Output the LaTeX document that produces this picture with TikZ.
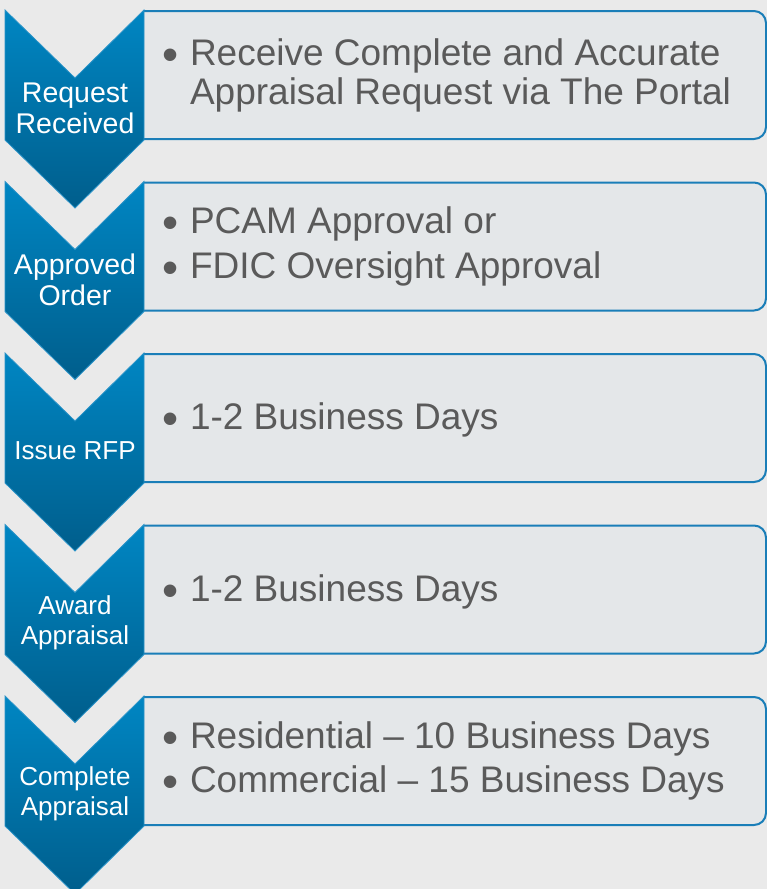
\documentclass[tikz,border=0pt]{standalone}
\usepackage{fontspec}
\setmainfont{Liberation Sans}
\definecolor{bgcol}{HTML}{EAEAEA}
\definecolor{boxfill}{HTML}{E4E7E9}
\definecolor{boxline}{HTML}{1A7EB8}
\definecolor{chevtop}{HTML}{0086C3}
\definecolor{chevbot}{HTML}{005E8C}
\definecolor{chevedge}{HTML}{2A93C8}
\definecolor{textgray}{HTML}{5A5A5A}
\newcommand{\stepbullet}{\makebox[28pt][l]{\raisebox{-5pt}{\fontsize{46}{39}\selectfont\textbullet}}}

\begin{document}
\begin{tikzpicture}[x=1pt,y=-1pt,
        stepbox/.style={fill=boxfill,draw=boxline,line width=2,rounded corners=12},
        chevron/.style={top color=chevtop,bottom color=chevbot,draw=chevedge,line width=0.8},
        steplabel/.style={text=white,align=center,font=\fontsize{26}{30}\selectfont},
        steptext/.style={text=textgray,align=left,anchor=west,font=\fontsize{37}{39}\selectfont}]
        \useasboundingbox (0,0) rectangle (767,889);
        \fill[bgcol] (0,0) rectangle (767,889);

        \draw[stepbox] (144,11) -- (766,11) -- (766,139) -- (144,139);
        \draw[stepbox] (144,182.5) -- (766,182.5) -- (766,310.5) -- (144,310.5);
        \draw[stepbox] (144,354) -- (766,354) -- (766,482) -- (144,482);
        \draw[stepbox] (144,525.5) -- (766,525.5) -- (766,653.5) -- (144,653.5);
        \draw[stepbox] (144,697) -- (766,697) -- (766,825) -- (144,825);

        \draw[chevron] (5,10) -- (75,78) -- (144,10) -- (144,140) -- (75,208) -- (5,140) -- cycle;
        \draw[chevron] (5,181.5) -- (75,249.5) -- (144,181.5) -- (144,311.5) -- (75,379.5) -- (5,311.5) -- cycle;
        \draw[chevron] (5,353) -- (75,421) -- (144,353) -- (144,483) -- (75,551) -- (5,483) -- cycle;
        \draw[chevron] (5,524.5) -- (75,592.5) -- (144,524.5) -- (144,654.5) -- (75,722.5) -- (5,654.5) -- cycle;
        \draw[chevron] (5,696) -- (75,764) -- (144,696) -- (144,826) -- (75,894) -- (5,826) -- cycle;

        \node[steplabel,font=\fontsize{28.5}{31}\selectfont] (req) at (75,108) {Request\\Received};
        \node[steplabel,font=\fontsize{28.5}{31}\selectfont] (appr) at (75,279.5) {Approved\\Order};
        \node[steplabel] (rfp) at (75,451) {Issue RFP};
        \node[steplabel] (award) at (75,622.5) {Award\\Appraisal};
        \node[steplabel] (compl) at (75,794) {Complete\\Appraisal};

        \node[steptext] (reqtext) at (158.5,75) {\stepbullet Receive Complete and Accurate\\\phantom{\stepbullet}Appraisal Request via The Portal};
        \node[steptext] (apprtext) at (158.5,246.5) {\stepbullet PCAM Approval or\\[6pt]\stepbullet FDIC Oversight Approval};
        \node[steptext] (rfptext) at (158.5,420) {\stepbullet 1-2 Business Days};
        \node[steptext] (awardtext) at (158.5,591.5) {\stepbullet 1-2 Business Days};
        \node[steptext] (compltext) at (158.5,761) {\stepbullet Residential – 10 Business Days\\[5pt]\stepbullet Commercial – 15 Business Days};
    \end{tikzpicture}
\end{document}
